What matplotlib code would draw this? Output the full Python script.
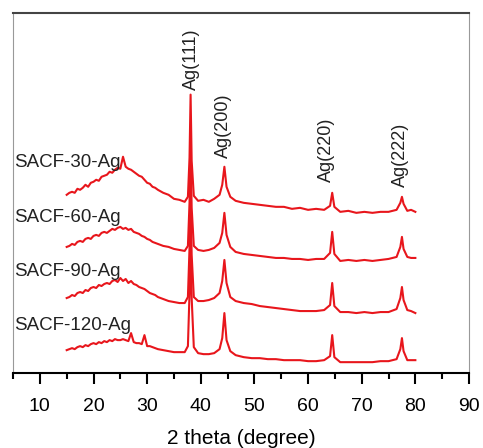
import matplotlib.pyplot as plt
from matplotlib.ticker import MultipleLocator

plt.rcParams['font.family'] = ['Liberation Sans', 'DejaVu Sans']

# 2 theta grid shared by all four patterns
two_theta = [15, 15.5, 16, 16.5, 17, 17.5, 18, 18.5, 19, 19.5, 20, 20.5, 21, 21.5,
             22, 22.5, 23, 23.5, 24, 24.5, 25, 25.5, 26, 26.5, 27, 27.5, 28, 28.5,
             29, 29.5, 30, 30.5, 31, 31.5, 32, 33, 34, 35, 36, 37,
             37.6, 37.9, 38.1, 38.3, 38.7, 39.5, 40.5, 41.5, 42.5, 43.5,
             44.0, 44.4, 44.8, 45.5, 46.5, 48, 49.5, 51, 52.5, 54, 55.5, 57,
             58.5, 60, 61.5, 63, 64.1, 64.5, 64.9, 66, 67.5, 69, 70.5, 72,
             73.5, 75, 76.5, 77.2, 77.5, 77.8, 78.5, 79.2, 80]

# intensities (a.u., already stacked)
sacf_30 = [178, 180, 181, 180, 184, 183, 185, 188, 186, 190, 191, 193, 192, 196,
           197, 198, 201, 200, 203, 205, 204, 216, 206, 204, 203, 201, 199, 197,
           196, 193, 190, 189, 186, 185, 183, 180, 178, 174, 173, 171,
           176, 215, 278, 212, 177, 172, 173, 171, 174, 178,
           188, 206, 186, 176, 172, 170, 169, 168, 167, 166, 166, 164,
           165, 163, 164, 163, 167, 180, 166, 161, 162, 160, 161, 160,
           161, 161, 163, 170, 176, 169, 162, 163, 161]
sacf_60 = [126, 127, 129, 128, 131, 132, 131, 134, 135, 134, 137, 138, 137, 140,
           141, 140, 142, 144, 143, 145, 146, 144, 145, 143, 144, 141, 140, 139,
           137, 136, 134, 133, 131, 130, 129, 127, 126, 124, 123, 122,
           127, 170, 228, 165, 127, 123, 122, 123, 125, 130,
           140, 160, 138, 126, 121, 119, 118, 117, 116, 115, 115, 114,
           114, 113, 114, 114, 120, 141, 119, 112, 113, 112, 113, 112,
           113, 114, 116, 126, 136, 124, 116, 115, 115]
sacf_90 = [75, 76, 78, 77, 80, 81, 80, 83, 82, 85, 86, 85, 88, 87,
           89, 90, 89, 92, 93, 91, 95, 92, 94, 90, 92, 89, 88, 86,
           85, 84, 82, 80, 79, 78, 76, 74, 72, 71, 70, 70,
           76, 125, 178, 118, 76, 72, 72, 73, 75, 80,
           92, 113, 90, 76, 72, 70, 69, 67, 66, 65, 64, 63,
           62, 62, 62, 63, 68, 90, 67, 61, 61, 60, 61, 60,
           61, 61, 64, 75, 86, 73, 63, 62, 60]
sacf_120 = [23, 24, 25, 24, 26, 27, 26, 28, 27, 29, 30, 29, 31, 30,
            32, 31, 33, 32, 34, 33, 33, 34, 33, 32, 40, 31, 30, 30,
            29, 38, 27, 27, 26, 25, 24, 23, 22, 21, 21, 21,
            27, 80, 128, 75, 26, 20, 19, 19, 20, 24,
            35, 60, 33, 22, 18, 16, 15, 15, 14, 14, 13, 13,
            13, 12, 12, 13, 17, 38, 16, 11, 11, 11, 11, 11,
            12, 12, 14, 24, 35, 22, 13, 13, 13]

samples = ['SACF-30-Ag', 'SACF-60-Ag', 'SACF-90-Ag', 'SACF-120-Ag']
label_y = [210, 155, 101, 48]

peaks = ['Ag(111)', 'Ag(200)', 'Ag(220)', 'Ag(222)']
peak_x = [38.3, 44.2, 63.4, 77.3]
peak_y = [283, 215, 191, 186]

fig = plt.figure(figsize=(4.83, 4.48), dpi=100)
ax = fig.add_axes([0.027, 0.167, 0.944, 0.803])

for ys in [sacf_120, sacf_90, sacf_60, sacf_30]:
    ax.plot(two_theta, ys, color='#e8161c', lw=1.5)

for name, y in zip(samples, label_y):
    ax.text(5.2, y, name, fontsize=13.5, ha='left', va='center', color='#222222')

for name, x, y in zip(peaks, peak_x, peak_y):
    ax.text(x, y, name, fontsize=13, rotation=90, ha='center', va='bottom',
            color='#222222')

ax.set_xlim(5, 90)
ax.set_ylim(0, 359)
ax.xaxis.set_major_locator(MultipleLocator(10))
ax.xaxis.set_minor_locator(MultipleLocator(5))
ax.set_yticks([])
ax.tick_params(axis='x', which='major', direction='out', length=8, width=1.5,
               labelsize=14, pad=10)
ax.tick_params(axis='x', which='minor', direction='out', length=4, width=1.5)
ax.set_xlabel('2 theta (degree)', fontsize=15, labelpad=10)

ax.spines['bottom'].set_linewidth(1.5)
ax.spines['top'].set_color('#444444')
ax.spines['top'].set_linewidth(1.5)
ax.spines['left'].set_color('#999999')
ax.spines['right'].set_color('#999999')

fig.savefig('out.png', dpi=100)
